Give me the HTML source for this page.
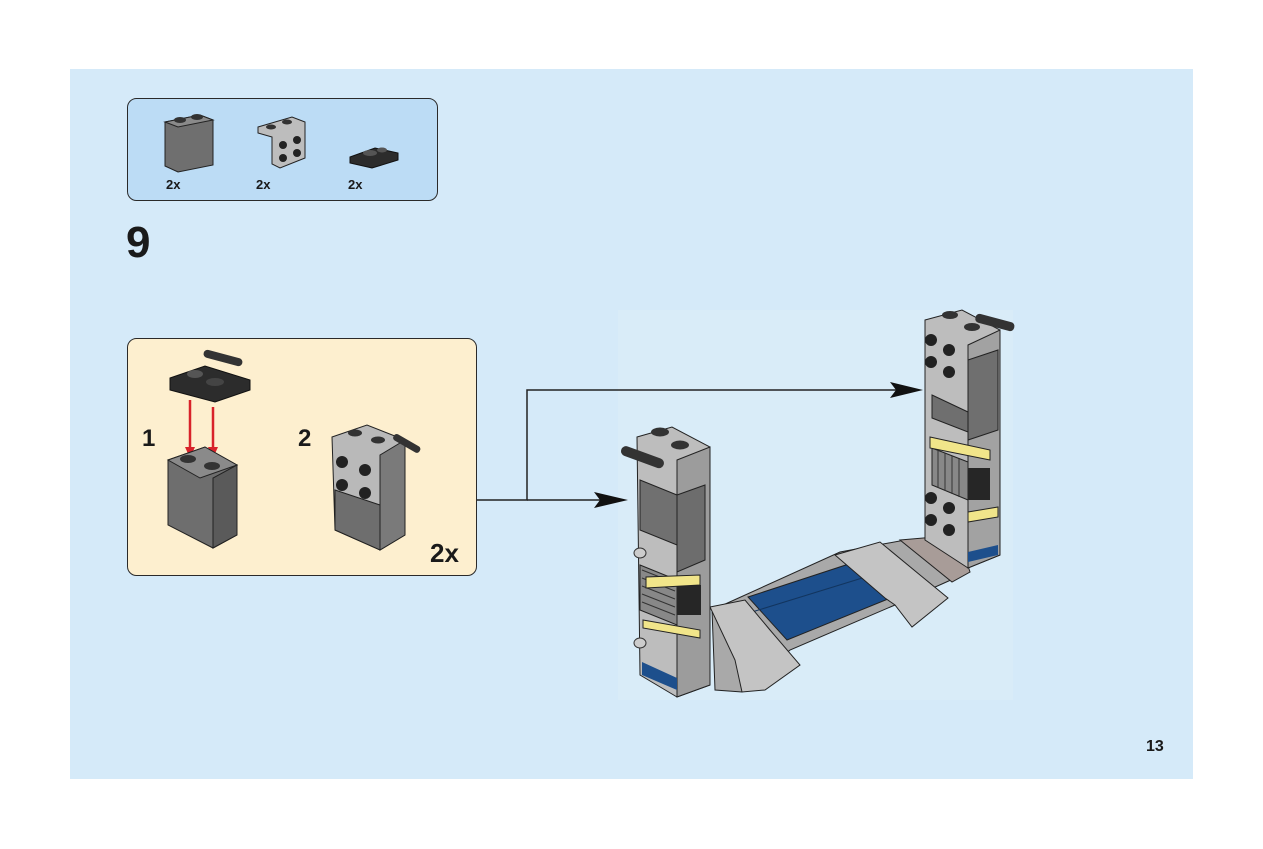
<!DOCTYPE html>
<html><head><meta charset="utf-8"><style>
html,body{margin:0;padding:0;background:#fff;width:1263px;height:849px;overflow:hidden}
svg{display:block}
text{font-family:"Liberation Sans",Arial,sans-serif;font-weight:bold;fill:#1a1a1a}
</style></head><body>
<svg width="1263" height="849" viewBox="0 0 1263 849">
<rect x="70" y="69" width="1123" height="710" fill="#d5eaf9"/>
<rect x="618" y="310" width="395" height="390" fill="#d9ecf8"/>
<!-- parts box -->
<rect x="127.5" y="98.5" width="310" height="102" rx="9" fill="#bcdcf5" stroke="#2a2a2a" stroke-width="1"/>
<polygon points="165,122 200,115 213,120 213,165 178,172 165,166" fill="#6f6f6f" stroke="#222"/>
<polygon points="165,122 200,115 213,120 178,127" fill="#8a8a8a" stroke="#222"/>
<ellipse cx="180" cy="120" rx="6" ry="3" fill="#333"/><ellipse cx="197" cy="117" rx="6" ry="3" fill="#333"/>
<polygon points="258,127 292,117 305,122 305,158 280,168 272,164 272,137 258,133" fill="#bdbdbd" stroke="#222"/>
<circle cx="283" cy="145" r="4" fill="#222"/><circle cx="297" cy="140" r="4" fill="#222"/><circle cx="283" cy="158" r="4" fill="#222"/><circle cx="297" cy="153" r="4" fill="#222"/>
<ellipse cx="271" cy="127" rx="5" ry="2.5" fill="#333"/><ellipse cx="287" cy="122" rx="5" ry="2.5" fill="#333"/>
<polygon points="350,157 375,148 398,153 398,160 372,168 350,163" fill="#2c2c2c" stroke="#111"/>
<ellipse cx="370" cy="153" rx="7" ry="3" fill="#555"/><ellipse cx="382" cy="150" rx="5" ry="2.5" fill="#555"/>
<text x="166" y="189" font-size="13">2x</text>
<text x="256" y="189" font-size="13">2x</text>
<text x="348" y="189" font-size="13">2x</text>
<text x="126" y="257" font-size="44">9</text>
<!-- sub-assembly box -->
<rect x="127.5" y="338.5" width="349" height="237" rx="9" fill="#fdefcf" stroke="#2a2a2a" stroke-width="1"/>
<text x="142" y="446" font-size="24">1</text>
<text x="298" y="446" font-size="24">2</text>
<text x="430" y="562" font-size="26">2x</text>
<polygon points="170,378 205,366 250,380 250,390 215,402 170,390" fill="#2c2c2c" stroke="#111"/>
<ellipse cx="195" cy="374" rx="8" ry="4" fill="#555"/><ellipse cx="215" cy="382" rx="9" ry="4" fill="#444"/>
<rect x="203" y="354" width="40" height="8" rx="4" fill="#333" transform="rotate(15 223 358)"/>
<line x1="190" y1="400" x2="190" y2="450" stroke="#d8222a" stroke-width="2.5"/>
<polygon points="185,447 195,447 190,458" fill="#d8222a"/>
<line x1="213" y1="407" x2="213" y2="450" stroke="#d8222a" stroke-width="2.5"/>
<polygon points="208,447 218,447 213,458" fill="#d8222a"/>
<polygon points="168,460 205,447 237,465 237,535 213,548 168,525" fill="#6e6e6e" stroke="#222"/>
<polygon points="168,460 205,447 237,465 200,478" fill="#8a8a8a" stroke="#222"/>
<polygon points="213,548 237,535 237,465 213,478" fill="#5a5a5a" stroke="#222"/>
<ellipse cx="188" cy="459" rx="8" ry="4" fill="#333"/><ellipse cx="212" cy="466" rx="8" ry="4" fill="#333"/>
<polygon points="332,437 367,425 405,440 405,535 380,550 335,530" fill="#b9b9b9" stroke="#222"/>
<polygon points="380,550 405,535 405,440 380,455" fill="#7a7a7a" stroke="#222"/>
<polygon points="335,490 380,505 380,550 335,530" fill="#6e6e6e" stroke="#222"/>
<circle cx="342" cy="462" r="6" fill="#222"/><circle cx="365" cy="470" r="6" fill="#222"/><circle cx="342" cy="485" r="6" fill="#222"/><circle cx="365" cy="493" r="6" fill="#222"/>
<ellipse cx="355" cy="433" rx="7" ry="3.5" fill="#333"/><ellipse cx="378" cy="440" rx="7" ry="3.5" fill="#333"/>
<rect x="392" y="440" width="30" height="7" rx="3" fill="#333" transform="rotate(30 407 443)"/>
<!-- arrows -->
<polyline points="477,500 527,500 527,390 900,390" fill="none" stroke="#222" stroke-width="1.5"/>
<polygon points="890,382 923,390 890,398 896,390" fill="#111"/>
<line x1="527" y1="500" x2="600" y2="500" stroke="#222" stroke-width="1.5"/>
<polygon points="594,492 628,500 594,508 600,500" fill="#111"/>
<!-- bridge deck -->
<polygon points="712,610 840,552 905,540 962,560 962,575 895,605 790,650 742,692 715,690" fill="#a9a9a9" stroke="#222"/>
<polygon points="748,597 855,562 893,597 787,640" fill="#1d4f8c" stroke="#222"/>
<line x1="752" y1="612" x2="872" y2="575" stroke="#12355f"/>
<polygon points="710,607 745,600 770,630 800,665 765,690 742,692 735,660" fill="#c4c4c4" stroke="#222"/>
<polygon points="835,555 880,542 920,575 948,598 912,627 895,605 885,598" fill="#c4c4c4" stroke="#222"/>
<polygon points="900,540 958,535 970,572 952,582" fill="#a89c98" stroke="#222"/>
<!-- left tower -->
<polygon points="637,437 672,427 710,447 710,685 677,697 640,675" fill="#bdbdbd" stroke="#222"/>
<polygon points="677,697 710,685 710,447 677,460" fill="#9c9c9c" stroke="#222"/>
<polygon points="640,480 677,495 677,545 640,530" fill="#707070" stroke="#222"/>
<polygon points="677,495 705,485 705,560 677,572" fill="#6d6d6d" stroke="#222"/>
<polygon points="640,565 677,580 677,625 640,610" fill="#888" stroke="#222"/>
<g stroke="#333" stroke-width="1">
<line x1="642" y1="570" x2="675" y2="583"/><line x1="642" y1="578" x2="675" y2="591"/><line x1="642" y1="586" x2="675" y2="599"/><line x1="642" y1="594" x2="675" y2="607"/><line x1="642" y1="602" x2="675" y2="615"/></g>
<rect x="677" y="585" width="24" height="30" fill="#262626"/>
<polygon points="646,577 700,575 700,585 646,588" fill="#f1e58a" stroke="#222"/>
<polygon points="643,620 700,630 700,638 643,628" fill="#f1e58a" stroke="#222"/>
<polygon points="642,662 677,678 677,690 642,675" fill="#1d4f8c"/>
<ellipse cx="660" cy="432" rx="9" ry="4.5" fill="#333"/><ellipse cx="680" cy="445" rx="9" ry="4.5" fill="#333"/>
<rect x="620" y="452" width="45" height="10" rx="5" fill="#333" transform="rotate(20 642 457)"/>
<ellipse cx="640" cy="553" rx="6" ry="5" fill="#ccc" stroke="#333"/>
<ellipse cx="640" cy="643" rx="6" ry="5" fill="#ccc" stroke="#333"/>
<!-- right tower -->
<polygon points="925,320 962,310 1000,330 1000,555 968,568 925,540" fill="#bdbdbd" stroke="#222"/>
<polygon points="968,568 1000,555 1000,330 968,345" fill="#a2a2a2" stroke="#222"/>
<polygon points="932,395 968,412 968,432 932,418" fill="#6f6f6f" stroke="#222"/>
<polygon points="968,360 998,350 998,430 968,440" fill="#6f6f6f" stroke="#222"/>
<polygon points="932,448 968,462 968,500 932,485" fill="#888" stroke="#222"/>
<g stroke="#333"><line x1="938" y1="450" x2="938" y2="488"/><line x1="945" y1="453" x2="945" y2="491"/><line x1="952" y1="456" x2="952" y2="494"/><line x1="959" y1="459" x2="959" y2="497"/></g>
<rect x="968" y="468" width="22" height="32" fill="#262626"/>
<polygon points="930,437 990,450 990,460 930,448" fill="#f1e58a" stroke="#222"/>
<polygon points="968,512 998,507 998,517 968,522" fill="#f1e58a" stroke="#222"/>
<polygon points="968,552 998,545 998,555 968,562" fill="#1d4f8c"/>
<circle cx="931" cy="340" r="6" fill="#222"/><circle cx="949" cy="350" r="6" fill="#222"/><circle cx="931" cy="362" r="6" fill="#222"/><circle cx="949" cy="372" r="6" fill="#222"/>
<circle cx="931" cy="498" r="6" fill="#222"/><circle cx="949" cy="508" r="6" fill="#222"/><circle cx="931" cy="520" r="6" fill="#222"/><circle cx="949" cy="530" r="6" fill="#222"/>
<ellipse cx="950" cy="315" rx="8" ry="4" fill="#333"/><ellipse cx="972" cy="327" rx="8" ry="4" fill="#333"/>
<rect x="975" y="318" width="40" height="9" rx="4" fill="#333" transform="rotate(15 995 322)"/>
<text x="1146" y="751" font-size="16">13</text>
</svg>
</body></html>
